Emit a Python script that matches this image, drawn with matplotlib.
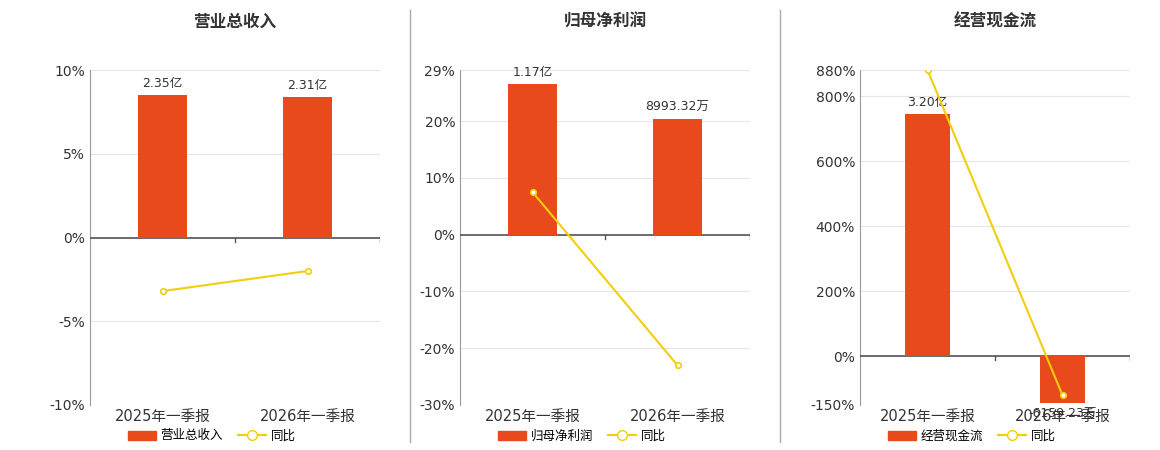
import matplotlib
matplotlib.use('Agg')
import matplotlib.pyplot as plt
from matplotlib.lines import Line2D
from matplotlib.patches import Patch

plt.rcParams['font.family'] = ['DejaVu Sans', 'Noto Sans CJK SC']

periods = ['2025年一季报', '2026年一季报']
titles = ['营业总收入', '归母净利润', '经营现金流']
bar_vals = [[2.35, 2.31], [1.17, 0.899332], [3.20, -0.615923]]  # 亿
bar_labels = [['2.35亿', '2.31亿'], ['1.17亿', '8993.32万'], ['3.20亿', '-6159.23万']]
yoy = [[-3.2, -2.0], [7.5, -23.0], [880.0, -120.0]]
yticks = [[-10, -5, 0, 5, 10], [-30, -20, -10, 0, 10, 20, 29], [-150, 0, 200, 400, 600, 800, 880]]
# bar value that maps to top of percent axis
bar_top = [2.76, 1.28, 3.78]

BAR = '#E84A1B'
LINE = '#F2CE0B'

fig = plt.figure(figsize=(11.6, 4.5), dpi=100)
lefts = [90, 460, 860]
widths = [290, 290, 270]
for i in range(3):
    ax = fig.add_axes([lefts[i] / 1160, 45 / 450, widths[i] / 1160, 335 / 450])
    lo, hi = yticks[i][0], yticks[i][-1]
    ax.set_ylim(lo, hi)
    ax.set_xlim(-0.5, 1.5)
    ax.set_yticks(yticks[i])
    ax.set_yticklabels([f'{t}%' for t in yticks[i]], fontsize=10, color='#333333')
    ax.grid(axis='y', color='#e6e6e6', lw=0.8)
    ax.set_axisbelow(True)
    for s in ['top', 'right', 'bottom']:
        ax.spines[s].set_visible(False)
    ax.spines['left'].set_color('#999999')
    ax.tick_params(axis='y', length=0)
    ax.set_xticks([0, 1])
    ax.set_xticklabels(periods, fontsize=10.5, color='#333333')
    ax.tick_params(axis='x', length=0, pad=3)
    ax.axhline(0, color='#555555', lw=1.2, zorder=3)
    for xt in [0.5, 1.5]:
        ax.plot([xt, xt], [0, -(hi - lo) * 0.012], color='#555555', lw=1, zorder=3)

    # bar axis scaled so that zero aligns
    k = bar_top[i] / hi
    bx = ax.twinx()
    bx.set_ylim(lo * k, hi * k)
    bx.set_xlim(-0.5, 1.5)
    bx.axis('off')
    bx.bar([0, 1], bar_vals[i], width=0.34, color=BAR, zorder=2)
    for j, v in enumerate(bar_vals[i]):
        off = (hi - lo) * k * 0.015
        y = v + off if v > 0 else v - off
        bx.text(j, y, bar_labels[i][j], ha='center', va='bottom' if v > 0 else 'top',
                fontsize=9, color='#333333')
    lx = ax.twinx()
    lx.set_ylim(lo, hi)
    lx.set_xlim(-0.5, 1.5)
    lx.axis('off')
    lx.plot([0, 1], yoy[i], color=LINE, lw=1.5, marker='o', ms=4,
            mfc='white', mec=LINE, mew=1.2, zorder=5)

    cx = (lefts[i] + widths[i] / 2) / 1160
    fig.text(cx, 1 - 22 / 450, titles[i], ha='center', va='center', fontsize=12,
             fontweight='bold', color='#333333')
    handles = [Patch(color=BAR), Line2D([], [], color=LINE, marker='o', mfc='white', mec=LINE, ms=7)]
    fig.legend(handles, [titles[i], '同比'], loc='center', bbox_to_anchor=(cx - 0.02, 1 - 436 / 450),
               ncol=2, frameon=False, fontsize=9, handlelength=2.2, columnspacing=1.2,
               handletextpad=0.4)

for xs in [410, 780]:
    fig.add_artist(Line2D([xs / 1160, xs / 1160], [8 / 450, 440 / 450], color='#aaaaaa', lw=1))

fig.savefig('out.png', dpi=100)
